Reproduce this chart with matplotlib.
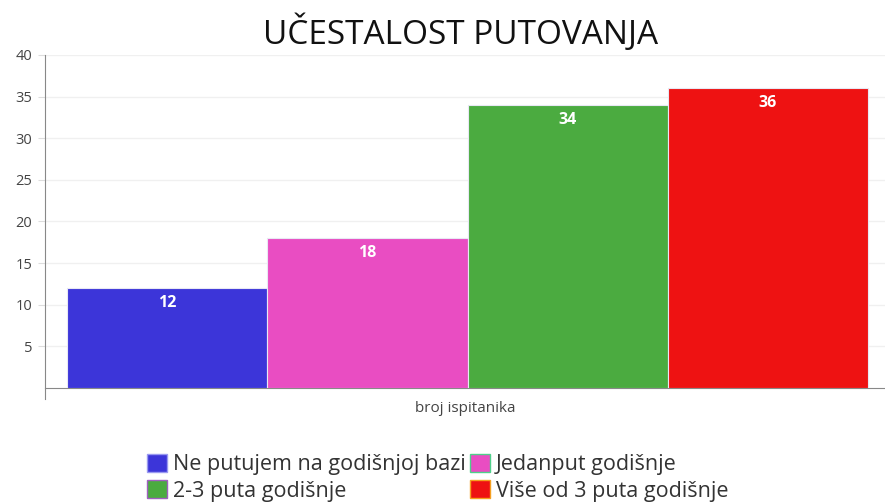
import matplotlib.pyplot as plt
from matplotlib.patches import Patch

plt.rcParams['font.family'] = ['Open Sans', 'DejaVu Sans']

categories = ["Ne putujem na godišnjoj bazi", "Jedanput godišnje",
              "2-3 puta godišnje", "Više od 3 puta godišnje"]
values = [12, 18, 34, 36]
colors = ["#3c35d9", "#e94dc2", "#4bab40", "#ee1212"]
legend_edges = ["#9a9af0", "#4fd08a", "#a060c0", "#f5a020"]
yticks = [5, 10, 15, 20, 25, 30, 35, 40]

fig = plt.figure(figsize=(8.85, 5.04), dpi=100)
ax = fig.add_axes([45 / 885, 1 - 388 / 504, 840 / 885, 333 / 504])

x = range(len(values))
bars = ax.bar(x, values, width=1.0, color=colors, edgecolor="#e8e8f4", linewidth=0.8, zorder=3)
for b, v in zip(bars, values):
    ax.text(b.get_x() + b.get_width() / 2, v - 1.8, str(v), ha="center", va="center",
            color="white", fontsize=11.5, fontweight="bold", zorder=4)

ax.set_xlim(-0.61, 3.585)
ax.set_ylim(0, 40)
ax.set_yticks(yticks)
ax.set_yticklabels([str(t) for t in yticks], color="#444444", fontsize=10.5)
ax.set_xticks([])
ax.tick_params(axis="y", length=5, color="#dddddd", pad=4)
ax.grid(axis="y", color="#f0f0f0", linewidth=1, zorder=0)
for s in ["top", "right"]:
    ax.spines[s].set_visible(False)
ax.spines["left"].set_color("#888888")
ax.spines["bottom"].set_color("#888888")
ax.spines["left"].set_bounds(-1.3, 40)

ax.set_xlabel("broj ispitanika", fontsize=11, color="#444444", labelpad=9)
fig.text(0.52, 0.935, "UČESTALOST PUTOVANJA", ha="center", va="center", fontsize=24, color="#111111")

order = [0, 2, 1, 3]
handles = [Patch(facecolor=colors[i], edgecolor=legend_edges[i], linewidth=1) for i in order]
labels = [categories[i] for i in order]
fig.legend(handles, labels, ncol=2, loc="center", bbox_to_anchor=(0.495, 0.052), frameon=False,
           fontsize=15.5, handlelength=0.9, handleheight=0.9, handletextpad=0.3,
           columnspacing=0.2, labelspacing=0.25, labelcolor="#333333")

plt.savefig("out.png", dpi=100)
